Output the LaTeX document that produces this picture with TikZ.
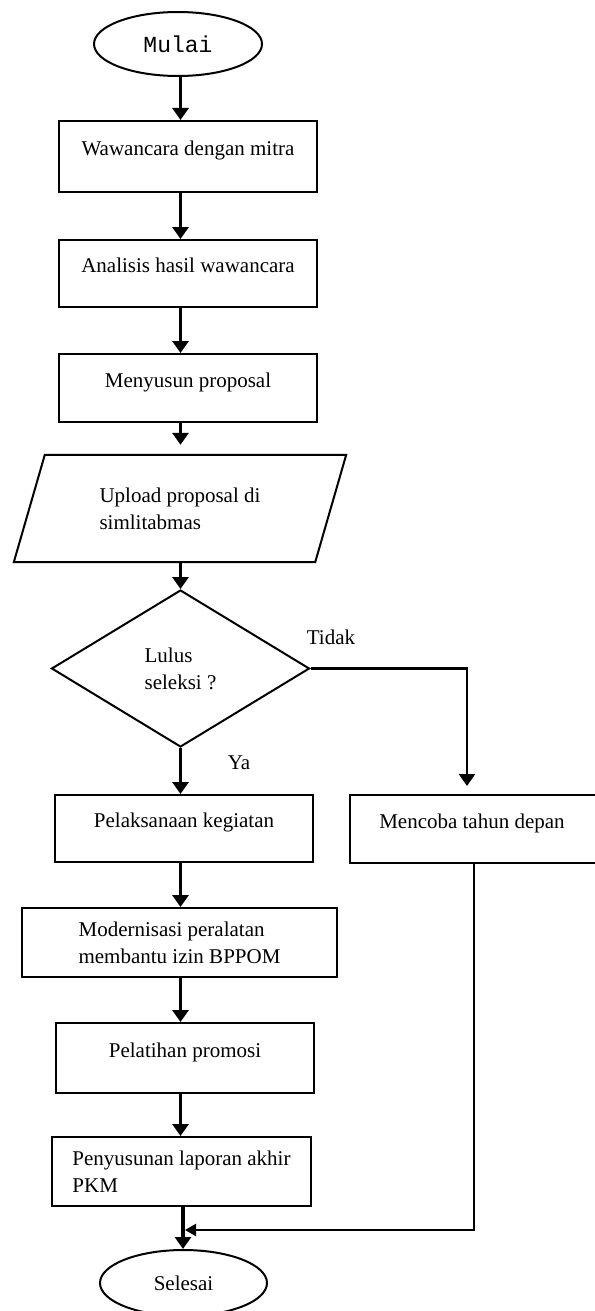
\documentclass[tikz,border=0pt]{standalone}
\usepackage{fontspec}
\setmainfont{Liberation Serif}
\setmonofont{Liberation Mono}
\usetikzlibrary{shapes.geometric,arrows.meta}

\begin{document}
\begin{tikzpicture}[x=1pt, y=-1pt,
    every node/.style={font=\fontsize{21}{27}\selectfont},
    box/.style={draw, line width=2pt, inner sep=0pt, text depth=16pt},
    box2/.style={draw, line width=2pt, inner sep=0pt, align=left},
    term/.style={draw, ellipse, line width=2pt, inner sep=0pt},
    io/.style={inner sep=0pt, align=left},
    decide/.style={draw, diamond, line width=2pt, inner sep=0pt, align=left},
    flow/.style={line width=3.5pt, -{Triangle[length=12pt,width=16pt]}},
    back/.style={line width=2.2pt, -{Triangle[length=11pt,width=12pt]}}]
      \useasboundingbox (0,0) rectangle (594,1311);
      \coordinate (spine) at (180.5,0);
      \node[term, minimum width=168pt, minimum height=64pt, font=\ttfamily\fontsize{23}{28}\selectfont] (mulai) at (178,44) {Mulai};
      \node[box, minimum width=258pt, minimum height=71pt] (wawancara) at (188,156.5) {Wawancara dengan mitra};
      \node[box, minimum width=258pt, minimum height=67pt] (analisis) at (188,273.5) {Analisis hasil wawancara};
      \node[box, minimum width=258pt, minimum height=68pt] (proposal) at (188,388) {Menyusun proposal};
      \node[io, minimum width=301pt, minimum height=107pt] (upload) at (180,508.5) {Upload proposal di\\simlitabmas};
      \draw[line width=2pt] ([xshift=-15.5pt]upload.south west) -- ([xshift=15.5pt]upload.north west)
        -- ([xshift=15.5pt]upload.north east) -- ([xshift=-15.5pt]upload.south east) -- cycle;
      \node[decide, minimum width=258pt, minimum height=157pt] (lulus) at (180.5,668.5) {Lulus\\seleksi ?};
      \node[box, minimum width=258pt, minimum height=67pt] (kegiatan) at (184,828.5) {Pelaksanaan kegiatan};
      \node[box, minimum width=256pt, minimum height=68pt] (coba) at (478,829) {\hspace*{-12pt}Mencoba tahun depan};
      \node[box2, minimum width=315pt, minimum height=69pt] (alat) at (179.5,942.5) {Modernisasi peralatan\\membantu izin BPPOM};
      \node[box, minimum width=258pt, minimum height=70pt] (promosi) at (185,1058) {Pelatihan promosi};
      \node[box2, minimum width=259pt, minimum height=69pt] (laporan) at (181.5,1171.5) {Penyusunan laporan akhir\\PKM};
      \node[term, minimum width=167pt, minimum height=66pt] (selesai) at (183.5,1283) {Selesai};
      \node (tidak) at (331,637) {Tidak};
      \node (ya) at (239,763) {Ya};
      \coordinate (gabung) at (183,1230);
      \draw[flow] (mulai.south -| spine) -- (wawancara.north -| spine);
      \draw[flow] (wawancara.south -| spine) -- (analisis.north -| spine);
      \draw[flow] (analisis.south -| spine) -- (proposal.north -| spine);
      \draw[flow, shorten >=10pt] (proposal.south -| spine) -- (upload.north -| spine);
      \draw[flow] (upload.south -| spine) -- (lulus.north);
      \draw[flow] (lulus.south) -- (kegiatan.north -| lulus);
      \draw[flow, line width=2.6pt, shorten >=8pt] (lulus.east) -| ([xshift=-11pt]coba.north);
      \draw[flow] (kegiatan.south -| spine) -- (alat.north -| spine);
      \draw[flow] (alat.south -| spine) -- (promosi.north -| spine);
      \draw[flow] (promosi.south -| spine) -- (laporan.north -| spine);
      \draw[flow] (laporan.south -| gabung) -- (selesai.north -| gabung);
      \draw[back, shorten >=2pt] ([xshift=-4pt]coba.south) |- (gabung);
    \end{tikzpicture}
\end{document}
